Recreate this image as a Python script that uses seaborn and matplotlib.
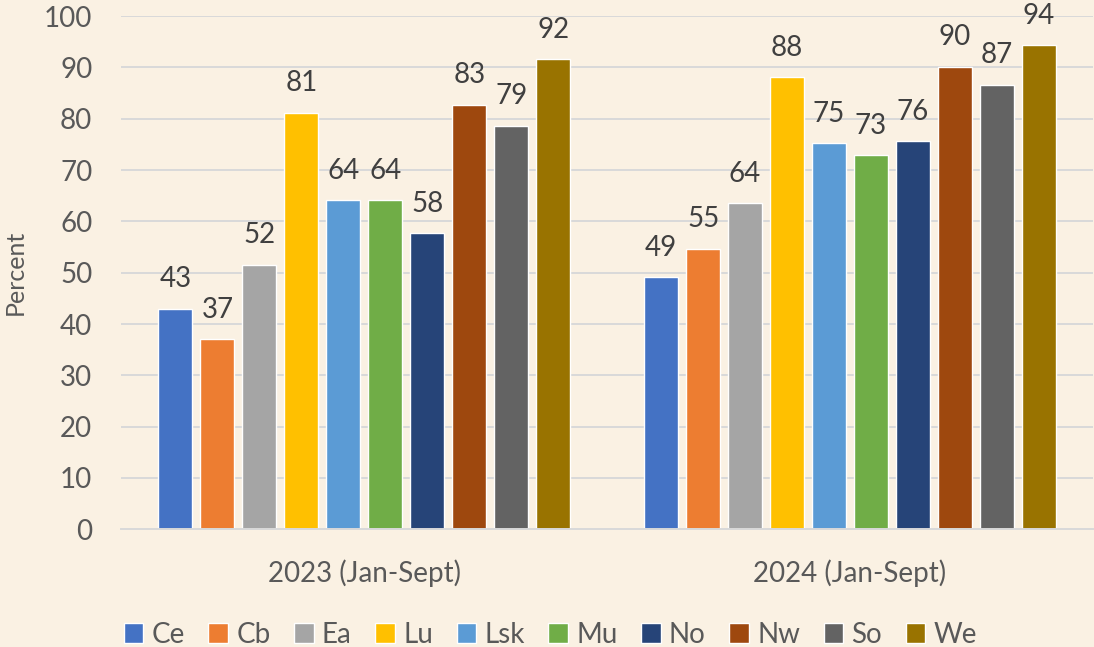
import pandas as pd
import matplotlib
matplotlib.use("Agg")
import matplotlib.pyplot as plt
import seaborn as sns

# ===============================================================
# DATA
# ===============================================================
periods = ["2023 (Jan-Sept)", "2024 (Jan-Sept)"]
regions = ["Ce", "Cb", "Ea", "Lu", "Lsk", "Mu", "No", "Nw", "So", "We"]
values_2023 = [42.9, 37.0, 51.5, 81.1, 64.1, 64.1, 57.7, 82.7, 78.6, 91.6]
values_2024 = [49.1, 54.6, 63.5, 88.1, 75.2, 72.9, 75.6, 90.1, 86.6, 94.3]
colors = ["#4472C4", "#ED7D31", "#A5A5A5", "#FFC000", "#5B9BD5",
          "#70AD47", "#264478", "#9E480E", "#636363", "#997300"]

df = pd.DataFrame({
    "period": [periods[0]] * len(regions) + [periods[1]] * len(regions),
    "region": regions + regions,
    "percent": values_2023 + values_2024,
})

# ===============================================================
# STYLE
# ===============================================================
bg = "#FAF1E3"
sns.set_style("white")
plt.rcParams["font.family"] = ["Lato", "DejaVu Sans"]

fig = plt.figure(figsize=(10.94, 6.47), dpi=100, facecolor=bg)
ax = fig.add_axes([0.111, 0.182, 0.888, 0.793])
ax.set_facecolor(bg)

sns.barplot(
    ax=ax,
    data=df,
    x="period",
    y="percent",
    hue="region",
    hue_order=regions,
    palette=colors,
    width=0.864,
    gap=0.19,
    saturation=1,
)

for cont in ax.containers:
    ax.bar_label(cont, fmt="%.0f", padding=12, fontsize=20, color="#404040")

ax.set_ylim(0, 100)
ax.set_xlim(-0.5, 1.5)
ax.set_yticks(range(0, 101, 10))
ax.yaxis.grid(True, color="#D9D9D9", linewidth=1.4)
ax.set_axisbelow(True)
for s in ["top", "right", "left"]:
    ax.spines[s].set_visible(False)
ax.spines["bottom"].set_color("#D9D9D9")
ax.spines["bottom"].set_linewidth(1.4)

ax.tick_params(axis="y", length=0, pad=21, labelsize=20, labelcolor="#595959")
ax.tick_params(axis="x", length=0, pad=22, labelsize=20, labelcolor="#595959")
ax.set_xlabel("")
ax.set_ylabel("Percent", fontsize=18, color="#595959")
ax.yaxis.set_label_coords(-0.097, 0.5)

ax.get_legend().remove()
handles, labels = ax.get_legend_handles_labels()
fig.legend(
    handles, labels,
    loc="lower center",
    bbox_to_anchor=(0.503, -0.04),
    ncol=10,
    frameon=False,
    fontsize=20,
    labelcolor="#595959",
    handlelength=0.7,
    handleheight=0.7,
    handletextpad=0.3,
    columnspacing=0.85,
)

fig.savefig("out.png", dpi=100, facecolor=bg)
